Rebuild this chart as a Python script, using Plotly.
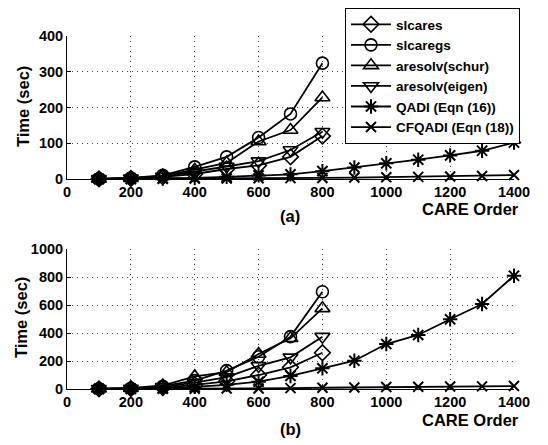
import plotly.graph_objects as go

# ---------------- data ----------------
x_short = [100, 200, 300, 400, 500, 600, 700, 800]
x_long = [100, 200, 300, 400, 500, 600, 700, 800, 900, 1000, 1100, 1200, 1300, 1400]

names = ["slcares", "slcaregs", "aresolv(schur)", "aresolv(eigen)",
         "QADI (Eqn (16))", "CFQADI (Eqn (18))"]

# panel (a)
a_slcares = [0.3, 1.5, 6, 14, 28, 38, 62, 120]
a_slcaregs = [0.5, 3, 10, 34, 62, 116, 182, 324]
a_schur = [0.4, 2.5, 8, 26, 45, 105, 137, 228]
a_eigen = [0.3, 2, 7, 20, 35, 50, 81, 132]
a_qadi = [0.1, 0.5, 1.5, 3, 6, 10, 13, 22, 32, 44, 54, 66, 79, 102]
a_cfqadi = [0.05, 0.2, 0.5, 1, 1.5, 2, 2.5, 3, 4, 5, 6, 7, 8.5, 11]

# panel (b)
b_slcares = [1, 3, 10, 30, 55, 100, 155, 259]
b_slcaregs = [1.5, 5, 20, 60, 131, 230, 374, 695]
b_schur = [2, 6, 25, 90, 120, 250, 362, 576]
b_eigen = [1, 4, 15, 45, 85, 165, 226, 374]
b_qadi = [0.5, 2, 6, 15, 30, 52, 93, 148, 202, 321, 386, 498, 607, 809]
b_cfqadi = [0.1, 0.5, 1, 2, 3, 4, 6, 9, 11, 14, 16, 18, 19, 21]

x_ticks = [0, 200, 400, 600, 800, 1000, 1200, 1400]
a_yticks = [0, 100, 200, 300, 400]
b_yticks = [0, 200, 400, 600, 800, 1000]

# ---------------- styling ----------------
FONT = "Liberation Sans, Arial, sans-serif"
symbols = ["diamond-open", "circle-open", "triangle-up-open",
           "triangle-down-open", "asterisk-open", "x-thin-open"]
sizes = [12, 12, 13, 13, 12, 10]

fig = go.Figure()

panels = [
    ("x", "y", [a_slcares, a_slcaregs, a_schur, a_eigen, a_qadi, a_cfqadi], True),
    ("x2", "y2", [b_slcares, b_slcaregs, b_schur, b_eigen, b_qadi, b_cfqadi], False),
]
for xa, ya, series, show in panels:
    for i, (nm, ys) in enumerate(zip(names, series)):
        xs = x_short if len(ys) == len(x_short) else x_long
        fig.add_trace(go.Scatter(
            x=xs, y=ys, name=nm, mode="lines+markers",
            xaxis=xa, yaxis=ya, showlegend=show, legendgroup=nm,
            cliponaxis=False,
            line=dict(color="black", width=1.8),
            marker=dict(symbol=symbols[i], size=sizes[i], color="black",
                        line=dict(color="black", width=1.6 if i < 4 else 2)),
        ))

tickfont = dict(family=FONT, size=14.5, color="black", weight="bold")

# the page body adds an 8px offset; figure is sized/positioned to compensate
OFF = 8
W, H = 548 - OFF, 445 - OFF


def px(x):
    return (x - OFF) / W


def py(y):
    return (H - (y - OFF)) / H


xdom = [px(67), px(514)]

axis_common = dict(
    showline=True, linecolor="black", linewidth=1, mirror=False,
    ticks="inside", ticklen=4, tickcolor="black",
    showgrid=True, gridcolor="#444444", griddash="1px,4px", gridwidth=1,
    zeroline=False, tickfont=tickfont, automargin=False,
)

fig.update_layout(
    template="none",
    width=W, height=H,
    margin=dict(l=0, r=0, t=0, b=0, autoexpand=False),
    paper_bgcolor="white", plot_bgcolor="white",
    xaxis=dict(domain=xdom, anchor="y", range=[0, 1400], tickvals=x_ticks, **axis_common),
    yaxis=dict(domain=[py(179), py(36)], anchor="x", range=[0, 400],
               tickvals=a_yticks, **axis_common),
    xaxis2=dict(domain=xdom, anchor="y2", range=[0, 1400], tickvals=x_ticks, **axis_common),
    yaxis2=dict(domain=[py(389), py(249)], anchor="x2", range=[0, 1000],
                tickvals=b_yticks, **axis_common),
    legend=dict(
        x=px(345), y=1.0, xanchor="left", yanchor="top",
        bgcolor="white", bordercolor="black", borderwidth=1,
        font=dict(family=FONT, size=13.5, color="black", weight="bold"),
        tracegroupgap=0, itemwidth=40,
    ),
    showlegend=True,
)

lab = dict(family=FONT, size=16.5, color="black", weight="bold")
annos = [
    dict(text="Time (sec)", x=px(23), y=py(107), textangle=-90),
    dict(text="Time (sec)", x=px(21), y=py(318), textangle=-90),
    dict(text="CARE Order", x=px(470), y=py(209)),
    dict(text="CARE Order", x=px(470), y=py(420)),
    dict(text="(a)", x=px(290), y=py(216)),
    dict(text="(b)", x=px(290), y=py(429)),
]
for a in annos:
    fig.add_annotation(xref="paper", yref="paper", showarrow=False,
                       xanchor="center", yanchor="middle", font=lab, **a)

fig.write_html("out.html")
